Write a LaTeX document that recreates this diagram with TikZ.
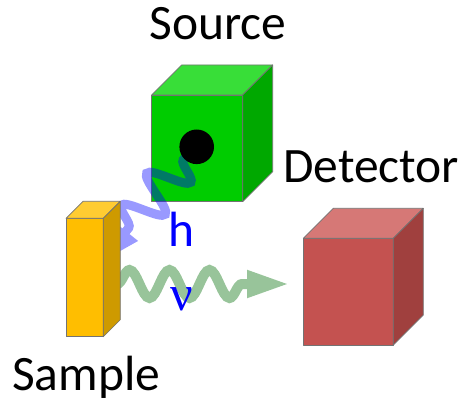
\documentclass[tikz,border=0pt]{standalone}
\usepackage{fontspec}
\setmainfont{Carlito}
\newfontfamily\greekserif{Liberation Serif}
\usetikzlibrary{decorations.pathmorphing,arrows.meta}

% face colours of the three blocks
\definecolor{srcfront}{RGB}{0,204,0}
\definecolor{srctop}{RGB}{56,222,56}
\definecolor{srcside}{RGB}{0,168,0}
\definecolor{detfront}{RGB}{196,82,80}
\definecolor{dettop}{RGB}{214,120,118}
\definecolor{detside}{RGB}{160,64,62}
\definecolor{smpfront}{RGB}{255,190,0}
\definecolor{smptop}{RGB}{255,204,50}
\definecolor{smpside}{RGB}{206,154,0}
\definecolor{emitted}{RGB}{152,196,154}

\tikzset{
  face/.style={draw=black!55, line width=0.7pt, line join=round},
  frontface/.style={face, rectangle, inner sep=0pt, outer sep=0pt},
  lbl/.style={font=\fontsize{49.5}{58}\selectfont, inner sep=0pt},
  photon/.style={line width=10pt, decorate},
}

\begin{document}
\begin{tikzpicture}[x=1pt, y=-1pt]
\useasboundingbox (0,0) rectangle (466,406);

% ---- source block ----
\node[frontface, fill=srcfront, minimum width=91pt, minimum height=106.7pt] (source) at (197.2,148.35) {};
\draw[face, fill=srctop] (source.north west) -- ++(30,-30) -- ++(91,0) -- (source.north east) -- cycle;
\draw[face, fill=srcside] (source.north east) -- ++(30,-30) -- ++(0,106.7) -- (source.south east) -- cycle;

% ---- incoming photon (source -> sample) ----
\coordinate (emit) at (191,150);
\coordinate (absorb) at (101,262.5);
\begin{scope}[transparency group, opacity=0.4]
  \draw[photon, line width=9pt, blue, -{Triangle[length=40pt,width=28pt]},
        decoration={snake, amplitude=20pt, segment length=41pt,
                    pre length=12.5pt, post length=40pt}] (emit) -- (absorb);
\end{scope}

% emitting aperture
\node[circle, fill=black, minimum size=34.6pt, inner sep=0pt] (aperture) at (196.7,146.8) {};

% ---- outgoing photon (sample -> detector) ----
\coordinate (leave) at (117,284);
\coordinate (arrive) at (290,284);
\draw[photon, emitted, -{Triangle[length=43pt,width=25pt]},
      decoration={snake, amplitude=14pt, segment length=40pt,
                  post length=43pt}] (leave) -- (arrive);

% ---- sample slab ----
\node[frontface, fill=smpfront, minimum width=37.3pt, minimum height=118.4pt] (sample) at (84.65,277.5) {};
\draw[face, fill=smptop] (sample.north west) -- ++(17,-17) -- ++(37.3,0) -- (sample.north east) -- cycle;
\draw[face, fill=smpside] (sample.north east) -- ++(17,-17) -- ++(0,118.4) -- (sample.south east) -- cycle;

% ---- detector block ----
\node[frontface, fill=detfront, minimum width=90pt, minimum height=106.7pt] (detector) at (348.3,291.65) {};
\draw[face, fill=dettop] (detector.north west) -- ++(30,-30) -- ++(90,0) -- (detector.north east) -- cycle;
\draw[face, fill=detside] (detector.north east) -- ++(30,-30) -- ++(0,106.7) -- (detector.south east) -- cycle;

% ---- labels ----
\node[lbl, anchor=base] (srclabel) at (218,40) {Source};
\node[lbl, anchor=base west] (detlabel) at (283,183) {Detector};
\node[lbl, anchor=base west] (smplabel) at (12,390) {Sample};
\node[lbl, anchor=base, text=blue] (hlabel) at (182,247) {h};
\node[lbl, anchor=base, text=blue, font=\greekserif\fontsize{50}{58}\selectfont] (nulabel) at (181.5,310) {ν};
\end{tikzpicture}
\end{document}
